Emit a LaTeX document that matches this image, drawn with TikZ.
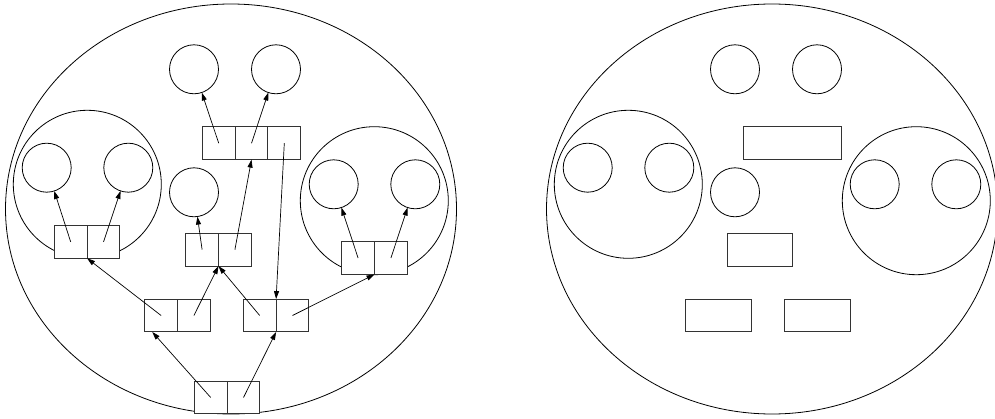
\documentclass[tikz,border=0pt]{standalone}
\usetikzlibrary{arrows.meta,calc,shapes.geometric}
\begin{document}
\begin{tikzpicture}[x=1pt,y=-1pt,
  every node/.style={inner sep=0pt,outer sep=0pt},
  ring/.style={draw,circle,line width=0.8pt,minimum size=148pt},
  ball/.style={draw,circle,line width=0.8pt,minimum size=49pt},
  cell/.style={draw=black!80,fill=white,line width=1pt,minimum width=32.8pt,minimum height=32.8pt},
  blockbox/.style={draw=black!80,fill=white,line width=1pt,minimum height=32.8pt},
  ptr/.style={-{Triangle[length=8pt,width=5pt]},line width=0.7pt}]
\useasboundingbox (0,0) rectangle (995,419);
% ---------------- left panel ----------------
\node[draw,ellipse,line width=0.8pt,minimum width=451pt,minimum height=410pt] (outerL) at (231,209) {};
\node[ring] (ringA) at (87.3,184.3) {};
\node[ring] (ringB) at (374.3,200.7) {};
\node[ball] (a1) at (46.7,167.7) {};
\node[ball] (a2) at (128.3,167.7) {};
\node[ball] (b1) at (333.7,184.3) {};
\node[ball] (b2) at (415.3,184.3) {};
\node[ball] (t1) at (194,69.3) {};
\node[ball] (t2) at (276,69.3) {};
\node[ball] (m0) at (194,192.3) {};
% cells
\node[cell] (lp1) at (70.7,241.9) {};
\node[cell] (lp2) at (103.5,241.9) {};
\node[cell] (tr1) at (218.7,143.2) {};
\node[cell] (tr2) at (251.5,143.2) {};
\node[cell] (tr3) at (284.3,143.2) {};
\node[cell] (mp1) at (202.1,249.7) {};
\node[cell] (mp2) at (234.9,249.7) {};
\node[cell] (rp1) at (358.1,258) {};
\node[cell] (rp2) at (390.9,258) {};
\node[cell] (ll1) at (161.1,315.5) {};
\node[cell] (ll2) at (193.9,315.5) {};
\node[cell] (lr1) at (259.7,315.5) {};
\node[cell] (lr2) at (292.5,315.5) {};
\node[cell] (bt1) at (210.7,397.5) {};
\node[cell] (bt2) at (243.5,397.5) {};
\coordinate (llhit) at ($(ll1.south west)!0.23!(ll1.south east)$);
% pointers
\draw[ptr] (lp1.center) -- (a1);
\draw[ptr] (lp2.center) -- (a2);
\draw[ptr] (rp1.center) -- (b1);
\draw[ptr] (rp2.center) -- (b2);
\draw[ptr] (tr1.center) -- (t1);
\draw[ptr] (tr2.center) -- (t2);
\draw[ptr] (tr3.center) -- (lr1.north east);
\draw[ptr] (mp1.center) -- (m0);
\draw[ptr] (mp2.center) -- (tr2.south);
\draw[ptr] (ll1.center) -- (lp1.south east);
\draw[ptr] (ll2.center) -- (mp1.south east);
\draw[ptr] (lr1.center) -- (mp1.south east);
\draw[ptr] (lr2.center) -- (rp1.south east);
\draw[ptr] (bt1.center) -- (llhit);
\draw[ptr] (bt2.center) -- (lr1.south east);
% ---------------- right panel ----------------
\node[draw,ellipse,line width=0.8pt,minimum width=451pt,minimum height=410pt] (outerR) at (772,209) {};
\node[ring] (ringC) at (628.3,184.3) {};
\node[ring] (ringD) at (916.3,200.7) {};
\node[ball] (c1) at (587.7,167.7) {};
\node[ball] (c2) at (669.3,167.7) {};
\node[ball] (d1) at (874.7,184.3) {};
\node[ball] (d2) at (956.3,184.3) {};
\node[ball] (u1) at (735,69.3) {};
\node[ball] (u2) at (817,69.3) {};
\node[ball] (n0) at (735,192.3) {};
\node[blockbox,minimum width=98.4pt] (rtop) at (792.7,143.2) {};
\node[blockbox,minimum width=65.6pt] (rmid) at (760,249.7) {};
\node[blockbox,minimum width=65.6pt] (rll) at (718.7,315.5) {};
\node[blockbox,minimum width=65.6pt] (rlr) at (817.3,315.5) {};
\end{tikzpicture}
\end{document}
